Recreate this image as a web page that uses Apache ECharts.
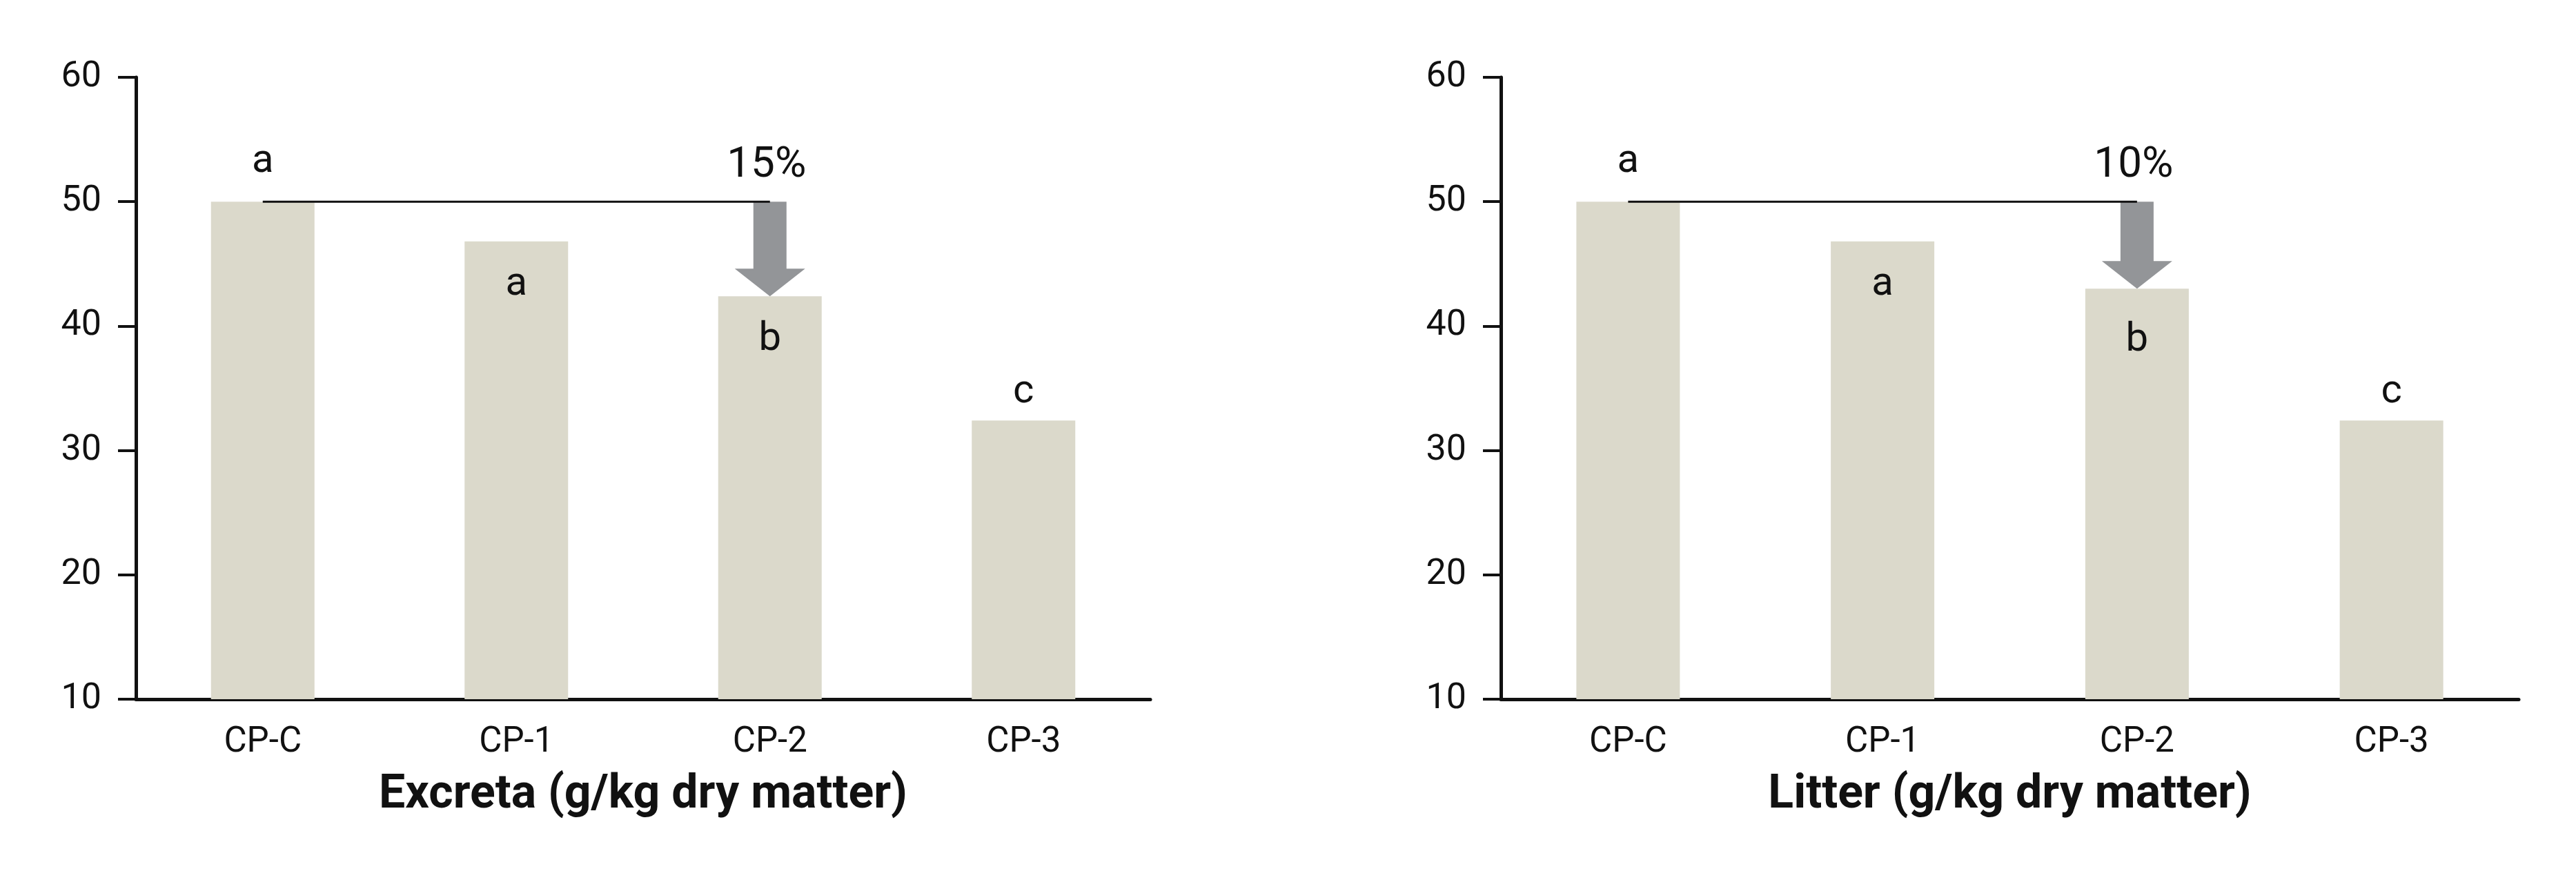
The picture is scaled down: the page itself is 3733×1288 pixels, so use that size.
<!DOCTYPE html>
<html>
<head>
<meta charset="utf-8">
<script src="https://cdn.jsdelivr.net/npm/echarts@6/dist/echarts.min.js"></script>
<style>
  html, body { margin: 0; padding: 0; background: #ffffff; }
  #chart { width: 3733px; height: 1288px; }
</style>
</head>
<body>
<div id="chart"></div>
<script>
// ---- data ----
const categories = ['CP-C', 'CP-1', 'CP-2', 'CP-3'];
const yTicks = [10, 20, 30, 40, 50, 60];
const excretaValues = [50, 46.8, 42.4, 32.4];
const litterValues = [50, 46.8, 43.0, 32.4];
const excretaLetters = ['a', 'a', 'b', 'c'];
const litterLetters = ['a', 'a', 'b', 'c'];
const excretaTitle = 'Excreta (g/kg dry matter)';
const litterTitle = 'Litter (g/kg dry matter)';
const excretaReduction = '15%';
const litterReduction = '10%';
// comparison: from category index 0 to index 2
const compareFrom = 0;
const compareTo = 2;

// ---- styling ----
const FONT = 'Roboto, "Liberation Sans", sans-serif';
const BAR_COLOR = '#dbd9cb';
const ARROW_COLOR = '#939598';
const INK = '#111111';

const charts = [
  { left: 197, width: 1470, values: excretaValues, letters: excretaLetters, title: excretaTitle, pct: excretaReduction,
    labelDy: [-58, 63, 63, -41] },
  { left: 2175, width: 1475, values: litterValues, letters: litterLetters, title: litterTitle, pct: litterReduction,
    labelDy: [-58, 63, 75, -41] }
];

const grids = [], xAxes = [], yAxes = [], series = [];

charts.forEach((c, i) => {
  grids.push({ left: c.left, top: 112, width: c.width, height: 901, containLabel: false });
  xAxes.push({
    type: 'category', gridIndex: i, data: categories,
    axisLine: { show: true, lineStyle: { color: INK, width: 5 } },
    axisTick: { show: false },
    axisLabel: { color: INK, fontFamily: FONT, fontSize: 51, margin: 38 },
    name: c.title, nameLocation: 'middle', nameGap: 106,
    nameTextStyle: { color: INK, fontFamily: FONT, fontSize: 68, fontWeight: 'bold' }
  });
  yAxes.push({
    type: 'value', gridIndex: i, min: yTicks[0], max: yTicks[yTicks.length - 1], interval: 10,
    axisLine: { show: true, lineStyle: { color: INK, width: 5 } },
    axisTick: { show: true, inside: false, length: 26, lineStyle: { color: INK, width: 4 } },
    axisLabel: { color: INK, fontFamily: FONT, fontSize: 52, margin: 50 },
    splitLine: { show: false }
  });
  series.push({
    type: 'bar', xAxisIndex: i, yAxisIndex: i, barWidth: 150,
    itemStyle: { color: BAR_COLOR },
    data: c.values.map((v, k) => ({
      value: v,
      label: {
        show: true, formatter: c.letters[k],
        position: ['50%', c.labelDy[k]], align: 'center', verticalAlign: 'middle',
        color: INK, fontFamily: FONT, fontSize: 58
      }
    })),
    z: 2
  });
  series.push({
    type: 'custom', xAxisIndex: i, yAxisIndex: i, z: 5,
    data: [[compareFrom, compareTo, c.values[compareFrom], c.values[compareTo]]],
    renderItem: function (params, api) {
      const p0 = api.coord([api.value(0), api.value(2)]);
      const p1 = api.coord([api.value(1), api.value(2)]);
      const p2 = api.coord([api.value(1), api.value(3)]);
      const shaftHalf = 24, headHalf = 51, headH = 40;
      const x = p1[0], yTop = p1[1], yTip = p2[1];
      const yBase = yTip - headH;
      return {
        type: 'group',
        children: [
          { type: 'polygon', shape: { points: [
              [x - shaftHalf, yTop], [x + shaftHalf, yTop], [x + shaftHalf, yBase],
              [x + headHalf, yBase], [x, yTip], [x - headHalf, yBase], [x - shaftHalf, yBase]
            ] }, style: { fill: ARROW_COLOR } },
          { type: 'line', shape: { x1: p0[0], y1: yTop, x2: x, y2: yTop },
            style: { stroke: INK, lineWidth: 3 } },
          { type: 'text', x: x - 5, y: yTop - 52,
            style: { text: c.pct, fill: INK, font: '62px ' + FONT, align: 'center', verticalAlign: 'middle' } }
        ]
      };
    }
  });
});

const chart = echarts.init(document.getElementById('chart'), null, { renderer: 'canvas' });
chart.setOption({
  backgroundColor: '#ffffff',
  animation: false,
  grid: grids, xAxis: xAxes, yAxis: yAxes, series: series
});
</script>
</body>
</html>
